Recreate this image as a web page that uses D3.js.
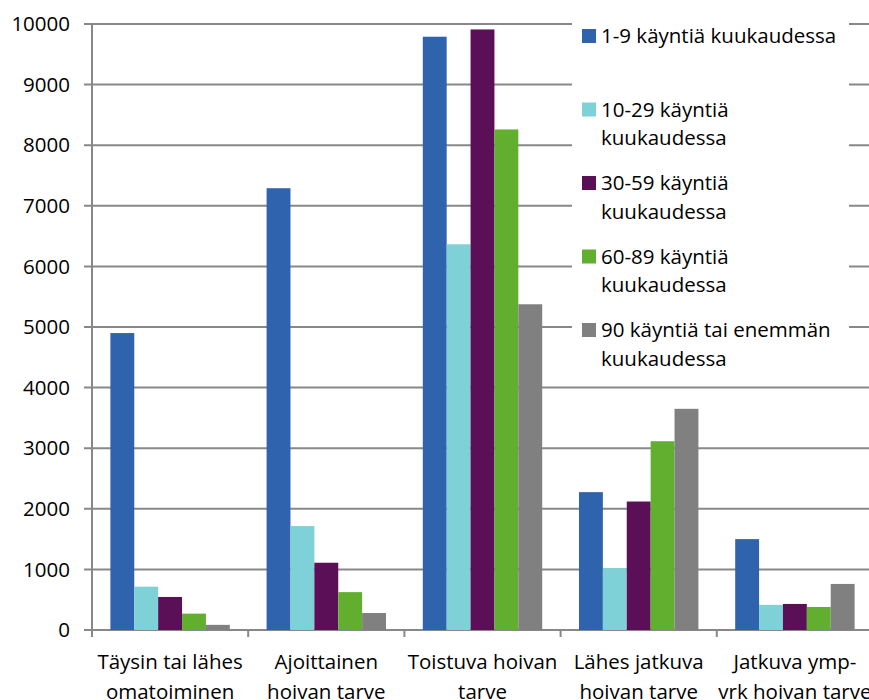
<!DOCTYPE html>
<html>
<head>
<meta charset="utf-8">
<script src="https://cdn.jsdelivr.net/npm/d3@7"></script>
<style>
  body { margin: 0; background: #fff; }
  svg { display: block; font-family: 'Open Sans', sans-serif; }
</style>
</head>
<body>
<svg width="869" height="700"></svg>
<script>
const categories = [
  ['Täysin tai lähes', 'omatoiminen'],
  ['Ajoittainen', 'hoivan tarve'],
  ['Toistuva hoivan', 'tarve'],
  ['Lähes jatkuva', 'hoivan tarve'],
  ['Jatkuva ymp-', 'vrk hoivan tarve']
];
const seriesNames = [
  ['1-9 käyntiä kuukaudessa'],
  ['10-29 käyntiä', 'kuukaudessa'],
  ['30-59 käyntiä', 'kuukaudessa'],
  ['60-89 käyntiä', 'kuukaudessa'],
  ['90 käyntiä tai enemmän', 'kuukaudessa']
];
const visits1to9   = [4900, 7290, 9790, 2275, 1500];
const visits10to29 = [715, 1715, 6365, 1020, 415];
const visits30to59 = [545, 1110, 9910, 2120, 430];
const visits60to89 = [270, 625, 8260, 3115, 380];
const visits90plus = [85, 280, 5375, 3650, 760];
const series = [visits1to9, visits10to29, visits30to59, visits60to89, visits90plus];
const colors = ['#3063ae', '#7dd1d7', '#5a0f56', '#62ae2f', '#808080'];
const yTicks = d3.range(0, 10001, 1000);

const svg = d3.select('svg');
const margin = { left: 92, top: 24, right: -4, bottom: 70 };
const width = +svg.attr('width');
const height = +svg.attr('height');
const gridColor = '#888';
const fontSize = 20.5;

const x = d3.scaleBand()
  .domain(d3.range(categories.length))
  .range([margin.left, width - margin.right]);
const inner = d3.scaleBand()
  .domain(d3.range(series.length))
  .range([0, x.bandwidth()])
  .paddingOuter(0.77)
  .paddingInner(0);
const y = d3.scaleLinear().domain([0, 10000]).range([height - margin.bottom, margin.top]);

// gridlines with small ticks left of the axis
const grid = svg.append('g');
grid.selectAll('line').data(yTicks).join('line')
  .attr('x1', margin.left - 8).attr('x2', width)
  .attr('y1', d => y(d)).attr('y2', d => y(d))
  .attr('stroke', gridColor).attr('stroke-width', 2);

svg.append('g').selectAll('text').data(yTicks).join('text')
  .attr('x', 70).attr('y', d => y(d))
  .attr('dy', '0.35em')
  .attr('text-anchor', 'end')
  .attr('font-size', fontSize)
  .attr('fill', '#000')
  .text(d => d);

// bars
const groups = svg.append('g').selectAll('g').data(series).join('g')
  .attr('fill', (d, i) => colors[i]);
groups.each(function(vals, si) {
  d3.select(this).selectAll('rect').data(vals).join('rect')
    .attr('x', (v, ci) => x(ci) + inner(si))
    .attr('width', inner.bandwidth())
    .attr('y', v => y(v))
    .attr('height', v => y(0) - y(v));
});

// y axis line and category ticks
svg.append('line')
  .attr('x1', margin.left).attr('x2', margin.left)
  .attr('y1', y(10000)).attr('y2', y(0) + 7)
  .attr('stroke', gridColor).attr('stroke-width', 2);
svg.append('g').selectAll('line').data(d3.range(1, categories.length)).join('line')
  .attr('x1', d => x(d)).attr('x2', d => x(d))
  .attr('y1', y(0)).attr('y2', y(0) + 7)
  .attr('stroke', gridColor).attr('stroke-width', 2);

// category labels
const catLabels = svg.append('g').selectAll('text').data(categories).join('text')
  .attr('text-anchor', 'middle')
  .attr('font-size', fontSize)
  .attr('fill', '#000');
catLabels.each(function(lines, i) {
  d3.select(this).selectAll('tspan').data(lines).join('tspan')
    .attr('x', x(i) + x.bandwidth() / 2)
    .attr('y', (d, j) => 662 + j * 30)
    .attr('dy', '0.35em')
    .text(d => d);
});

// legend
const legend = svg.append('g');
legend.append('rect')
  .attr('x', 572).attr('y', 0).attr('width', 277).attr('height', 378)
  .attr('fill', '#fff');
const items = legend.selectAll('g.item').data(seriesNames).join('g')
  .attr('class', 'item')
  .attr('transform', (d, i) => `translate(582, ${29 + i * 73.5})`);
items.append('rect')
  .attr('width', 14).attr('height', 14)
  .attr('fill', (d, i) => colors[i]);
items.append('text')
  .attr('font-size', fontSize)
  .attr('fill', '#000')
  .selectAll('tspan').data(d => d).join('tspan')
  .attr('x', 19)
  .attr('y', (d, j) => 7 + j * 28.5)
  .attr('dy', '0.35em')
  .text(d => d);
</script>
</body>
</html>
